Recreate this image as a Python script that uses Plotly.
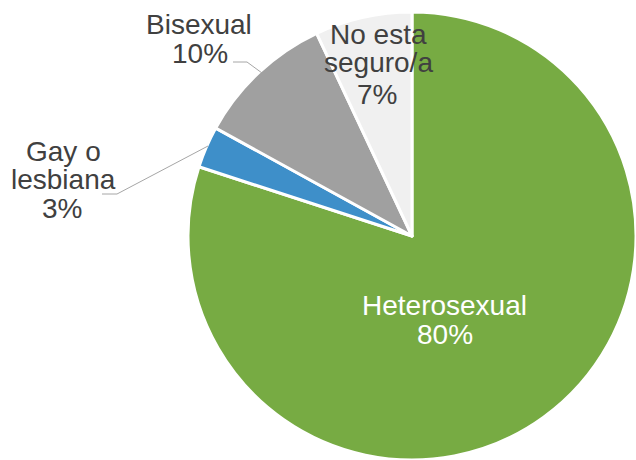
import plotly.graph_objects as go

# Data
categories = ["Heterosexual", "Gay o lesbiana", "Bisexual", "No esta seguro/a"]
values = [80, 3, 10, 7]
label_lines = [["Heterosexual", "80%"], ["Gay o", "lesbiana", "3%"],
               ["Bisexual", "10%"], ["No esta", "seguro/a", "7%"]]
colors = ["#77AB43", "#3E8FC9", "#A0A0A0", "#F0F0F0"]

W, H = 636, 460

fig = go.Figure(go.Pie(
    labels=categories,
    values=values,
    sort=False,
    direction="clockwise",
    rotation=0,
    marker=dict(colors=colors, line=dict(color="white", width=3)),
    textinfo="none",
    hoverinfo="label+percent",
    domain=dict(x=[188 / W, 1.0], y=[0.0, 448 / H]),
    showlegend=False,
))

# label line centers in pixel space (layout positions)
label_pos = [
    [(444, 305), (445, 334)],
    [(63, 151), (63, 180), (62, 208)],
    [(199, 24), (200, 53)],
    [(378, 34), (378, 63), (377, 94)],
]
label_colors = ["white", "#404040", "#404040", "#404040"]

annotations = []
for lines, poss, col in zip(label_lines, label_pos, label_colors):
    for txt, (px, py) in zip(lines, poss):
        annotations.append(dict(
            x=px / W, y=1 - py / H, xref="paper", yref="paper",
            text=txt, showarrow=False, xanchor="center", yanchor="middle",
            font=dict(family="Liberation Sans, Arial, sans-serif", size=28, color=col),
        ))

leaders = [
    [(102, 194), (117, 194), (208, 146)],
    [(233, 62), (247, 62), (262, 73)],
]
shapes = []
for pts in leaders:
    for (x0, y0), (x1, y1) in zip(pts[:-1], pts[1:]):
        shapes.append(dict(type="line", xref="paper", yref="paper",
                           x0=x0 / W, y0=1 - y0 / H, x1=x1 / W, y1=1 - y1 / H,
                           line=dict(color="#A6A6A6", width=1)))

fig.update_layout(
    width=W, height=H,
    margin=dict(l=0, r=0, t=0, b=0),
    paper_bgcolor="white", plot_bgcolor="white",
    annotations=annotations, shapes=shapes,
)

fig.write_html("out.html", config={"displayModeBar": False},
               post_script="document.body.style.margin='0';document.body.style.overflow='hidden';")
